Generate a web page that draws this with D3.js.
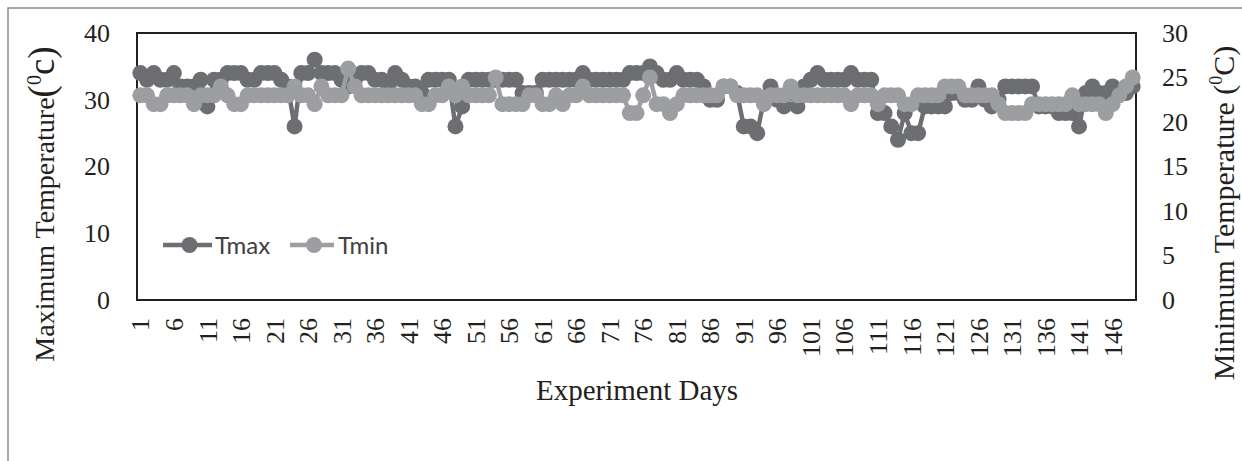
<!DOCTYPE html>
<html>
<head>
<meta charset="utf-8">
<script src="https://cdn.jsdelivr.net/npm/d3@7"></script>
<style>
  html, body { margin: 0; padding: 0; background: #fff; }
  svg { display: block; }
</style>
</head>
<body>
<svg id="chart" width="1242" height="461"></svg>
<script>
// ---- data ----
const days = d3.range(1, 150);
const tmax = [
  34,33,34,33,33,34,32,32,32,33,
  29,33,33,34,34,34,33,33,34,34,
  34,33,32,26,34,34,36,34,34,34,
  33,32,33,34,34,33,33,32,34,33,
  32,32,31,33,33,33,33,26,29,33,
  33,33,33,33,33,33,33,31,31,31,
  33,33,33,33,33,33,34,33,33,33,
  33,33,33,34,34,34,35,34,33,33,
  34,33,33,33,32,30,30,32,32,31,
  26,26,25,30,32,30,29,31,29,32,
  33,34,33,33,33,33,34,33,33,33,
  28,28,26,24,28,25,25,29,29,29,
  29,31,31,30,30,32,30,29,30,32,
  32,32,32,32,29,29,29,28,28,28,
  26,31,32,31,31,32,31,31,32
];
const tmin = [
  23,23,22,22,23,23,23,23,22,23,
  23,23,24,23,22,22,23,23,23,23,
  23,23,23,24,23,23,22,24,23,23,
  23,26,24,23,23,23,23,23,23,23,
  23,23,22,22,23,23,24,23,24,23,
  23,23,23,25,22,22,22,22,23,23,
  22,22,23,22,23,23,24,23,23,23,
  23,23,23,21,21,23,25,22,22,21,
  22,23,23,23,23,23,23,24,24,23,
  23,23,23,22,23,23,23,24,23,23,
  23,23,23,23,23,23,22,23,23,23,
  22,23,23,23,22,22,23,23,23,23,
  24,24,24,23,23,23,23,23,22,21,
  21,21,21,22,22,22,22,22,22,23,
  22,22,22,22,21,22,23,24,25
];
const xTickLabels = d3.range(1, 150, 5);
const leftTicks = [0, 10, 20, 30, 40];
const rightTicks = [0, 5, 10, 15, 20, 25, 30];
const seriesNames = ["Tmax", "Tmin"];

// ---- layout ----
const svg = d3.select("#chart");
const L = 137, R = 1136, T = 33, B = 300;
const cMax = "#6d6e71", cMin = "#9d9ea1", ink = "#231f20";
const serif = "'Liberation Serif','Times New Roman',serif";

const x = d3.scaleBand().domain(days).range([L, R]).padding(0);
const cx = d => x(d) + x.bandwidth() / 2;
const yL = d3.scaleLinear().domain([0, 40]).range([B, T]);
const yR = d3.scaleLinear().domain([0, 30]).range([B, T]);

// outer frame (top and left visible)
svg.append("path")
  .attr("d", "M8,461 L8,8 L1242,8")
  .attr("fill", "none").attr("stroke", "#8c8c8c").attr("stroke-width", 1.5);

// plot frame
svg.append("rect")
  .attr("x", L).attr("y", T).attr("width", R - L).attr("height", B - T)
  .attr("fill", "none").attr("stroke", ink).attr("stroke-width", 2);

// series
function drawSeries(vals, yScale, color) {
  const data = days.map((d, i) => ({ d, v: vals[i] }));
  const g = svg.append("g");
  g.append("path").datum(data)
    .attr("fill", "none").attr("stroke", color).attr("stroke-width", 4.5)
    .attr("stroke-linejoin", "round")
    .attr("d", d3.line().x(p => cx(p.d)).y(p => yScale(p.v)));
  g.selectAll("circle").data(data).join("circle")
    .attr("cx", p => cx(p.d)).attr("cy", p => yScale(p.v))
    .attr("r", 8).attr("fill", color);
}
drawSeries(tmax, yL, cMax);
drawSeries(tmin, yR, cMin);

// left axis
const axL = d3.axisLeft(yL).tickValues(leftTicks).tickSize(0).tickPadding(27);
const gL = svg.append("g").attr("transform", `translate(${L},0)`).call(axL);
gL.select(".domain").remove();
gL.selectAll("text").attr("font-family", serif).attr("font-size", 26).attr("fill", ink);

// right axis
const axR = d3.axisRight(yR).tickValues(rightTicks).tickSize(0).tickPadding(26);
const gR = svg.append("g").attr("transform", `translate(${R},0)`).call(axR);
gR.select(".domain").remove();
gR.selectAll("text").attr("font-family", serif).attr("font-size", 26).attr("fill", ink);

// x axis labels (rotated)
const gX = svg.append("g");
gX.selectAll("text").data(xTickLabels).join("text")
  .attr("transform", d => `translate(${cx(d)},318) rotate(-90)`)
  .attr("text-anchor", "end").attr("dy", "0.35em")
  .attr("font-family", serif).attr("font-size", 26).attr("fill", ink)
  .text(d => d);

// x title
svg.append("text").attr("x", 637).attr("y", 400).attr("text-anchor", "middle")
  .attr("font-family", serif).attr("font-size", 29).attr("fill", ink)
  .text("Experiment Days");

// left title
const tl = svg.append("text")
  .attr("transform", "translate(54,204) rotate(-90)")
  .attr("text-anchor", "middle").attr("font-family", serif).attr("fill", ink);
tl.append("tspan").attr("font-size", 28).text("Maximum Temperature");
tl.append("tspan").attr("font-size", 37).text("(");
tl.append("tspan").attr("font-size", 20).attr("dy", -13).text("0");
tl.append("tspan").attr("font-size", 37).attr("dy", 13).text("c)");

// right title
const tr = svg.append("text")
  .attr("transform", "translate(1234,213) rotate(-90)")
  .attr("text-anchor", "middle").attr("font-family", serif).attr("fill", ink);
tr.append("tspan").attr("font-size", 30).text("Minimum Temperature (");
tr.append("tspan").attr("font-size", 18).attr("dy", -12).text("0");
tr.append("tspan").attr("font-size", 30).attr("dy", 12).text("C)");

// legend
const legend = [
  { name: seriesNames[0], color: cMax, x0: 163, x1: 212, tx: 215 },
  { name: seriesNames[1], color: cMin, x0: 290, x1: 334, tx: 338 }
];
const gLeg = svg.append("g");
legend.forEach(l => {
  gLeg.append("line").attr("x1", l.x0).attr("x2", l.x1).attr("y1", 245).attr("y2", 245)
    .attr("stroke", l.color).attr("stroke-width", 4.5);
  gLeg.append("circle").attr("cx", (l.x0 + l.x1) / 2 + 2).attr("cy", 245).attr("r", 8).attr("fill", l.color);
  gLeg.append("text").attr("x", l.tx).attr("y", 245).attr("dy", "0.36em")
    .attr("font-family", "Lato,'Liberation Sans',sans-serif").attr("font-size", 24)
    .attr("fill", "#404040").text(l.name);
});
</script>
</body>
</html>
